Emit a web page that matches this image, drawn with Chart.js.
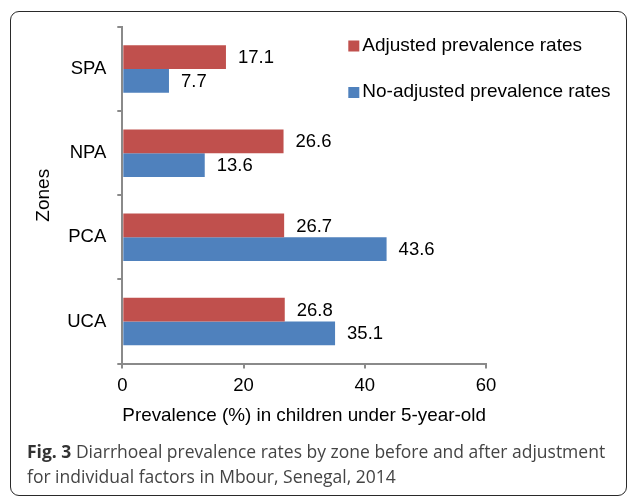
<!DOCTYPE html>
<html><head><meta charset="utf-8">
<script src="https://cdn.jsdelivr.net/npm/chart.js@4"></script>
<style>
html,body{margin:0;padding:0;background:#fff;}
#wrap{position:relative;width:628px;height:497px;overflow:hidden;}
#box{position:absolute;left:10px;top:11px;width:617px;height:485px;border:1.5px solid #2a2a2a;border-radius:9px;box-sizing:border-box;}
#c{position:absolute;left:0;top:0;}
#cap{position:absolute;left:27px;top:439px;width:600px;font-family:"Open Sans",sans-serif;font-size:17.5px;line-height:25px;color:#444;}
#cap b{font-weight:700;color:#333;}
</style></head>
<body>
<div id="wrap">
<div id="box"></div>
<canvas id="c" width="628" height="440"></canvas>
<div id="cap"><b>Fig. 3</b> Diarrhoeal prevalence rates by zone before and after adjustment for individual factors in Mbour, Senegal, 2014</div>
</div>
<script>
const zones = ['SPA', 'NPA', 'PCA', 'UCA'];
const adjusted = [17.1, 26.6, 26.7, 26.8];
const noAdjusted = [7.7, 13.6, 43.6, 35.1];
const seriesNames = ['Adjusted prevalence rates', 'No-adjusted prevalence rates'];
const xTicks = [0, 20, 40, 60];

const AX = '#8a8a8a';
const FONT = '"Liberation Sans", Arial, sans-serif';

const valueLabels = {
  id: 'valueLabels',
  afterDatasetsDraw(chart) {
    const ctx = chart.ctx;
    ctx.save();
    ctx.font = '18.5px ' + FONT;
    ctx.fillStyle = '#000';
    ctx.textBaseline = 'middle';
    ctx.textAlign = 'left';
    chart.data.datasets.forEach((ds, i) => {
      chart.getDatasetMeta(i).data.forEach((bar, j) => {
        ctx.fillText(ds.data[j].toFixed(1), bar.x + 12, bar.y + 1);
      });
    });
    ctx.restore();
  }
};

const overlayLegend = {
  id: 'overlayLegend',
  afterDraw(chart) {
    const ctx = chart.ctx;
    const a = chart.chartArea;
    const x0 = a.left + 226;
    const rows = [a.top + 18.5, a.top + 65];
    ctx.save();
    ctx.font = '19px ' + FONT;
    ctx.textBaseline = 'middle';
    ctx.textAlign = 'left';
    chart.data.datasets.forEach((ds, i) => {
      const y = rows[i];
      ctx.fillStyle = ds.backgroundColor;
      ctx.fillRect(x0, y - 5, 11, 11);
      ctx.fillStyle = '#000';
      ctx.fillText(ds.label, x0 + 14, y);
    });
    ctx.restore();
  }
};

new Chart(document.getElementById('c'), {
  type: 'bar',
  data: {
    labels: zones,
    datasets: [
      { label: seriesNames[0], data: adjusted, backgroundColor: '#C0504D' },
      { label: seriesNames[1], data: noAdjusted, backgroundColor: '#4F81BD' }
    ]
  },
  options: {
    indexAxis: 'y',
    responsive: false,
    animation: false,
    devicePixelRatio: 1,
    categoryPercentage: 0.564,
    barPercentage: 1,
    layout: { padding: { left: 32, top: 27, right: 142, bottom: 13 } },
    plugins: { legend: { display: false }, tooltip: { enabled: false } },
    scales: {
      x: {
        min: 0, max: 60,
        afterBuildTicks(s) { s.ticks = xTicks.map(v => ({ value: v })); },
        afterFit(s) { s.height = 63.5; },
        grid: { drawOnChartArea: false, drawTicks: true, tickLength: 5, color: AX, lineWidth: 2 },
        border: { display: true, color: AX, width: 2 },
        ticks: { color: '#000', font: { family: FONT, size: 18.5 }, padding: 6 },
        title: { display: true, text: 'Prevalence (%) in children under 5-year-old', color: '#000', font: { family: FONT, size: 19 }, padding: 0 }
      },
      y: {
        afterFit(s) { s.width = 90.3; },
        grid: { drawOnChartArea: false, drawTicks: true, tickLength: 5, color: AX, lineWidth: 2, offset: true },
        border: { display: true, color: AX, width: 2 },
        ticks: { color: '#000', font: { family: FONT, size: 18.5 }, padding: 11 },
        title: { display: true, text: 'Zones', color: '#000', font: { family: FONT, size: 19 }, padding: 0 }
      }
    }
  },
  plugins: [valueLabels, overlayLegend]
});
</script>
</body></html>
